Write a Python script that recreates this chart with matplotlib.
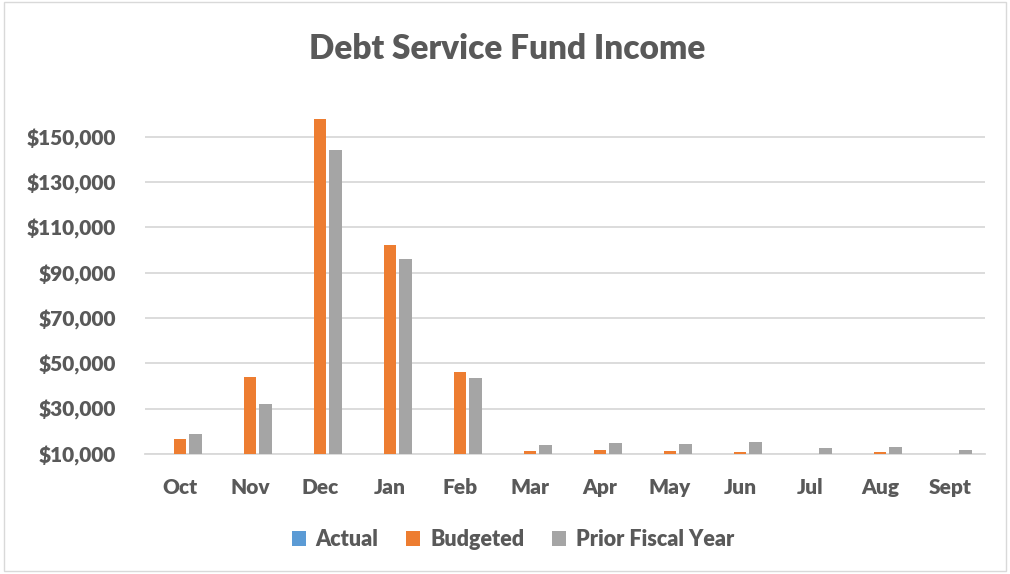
import numpy as np
import matplotlib.pyplot as plt
from matplotlib.patches import Rectangle

# Data
months = ['Oct', 'Nov', 'Dec', 'Jan', 'Feb', 'Mar', 'Apr', 'May', 'Jun', 'Jul', 'Aug', 'Sept']
actual = [0, 0, 0, 0, 0, 0, 0, 0, 0, 0, 0, 0]
budgeted = [16800, 44000, 157700, 102200, 46200, 11300, 11900, 11500, 11000, 10200, 10700, 10200]
prior = [18700, 32100, 144400, 96200, 43600, 14100, 14900, 14400, 15400, 12800, 13100, 12000]

txt = '#595959'
grid_c = '#d9d9d9'
plt.rcParams['font.family'] = ['Lato', 'DejaVu Sans']
fw = 'heavy'

fig = plt.figure(figsize=(10.1, 5.74), dpi=100)
ax = fig.add_axes([0.1436, 0.209, 0.8317, 0.592])

x = np.arange(len(months))
w = 0.18
off = 0.22
ax.bar(x - off, actual, w, color='#5B9BD5', label='Actual', zorder=3)
ax.bar(x, budgeted, w, color='#ED7D31', label='Budgeted', zorder=3)
ax.bar(x + off, prior, w, color='#A5A5A5', label='Prior Fiscal Year', zorder=3)

ax.set_xlim(-0.5, len(months) - 0.5)
ax.set_ylim(10000, 160000)
ticks = np.arange(10000, 160001, 20000)
ax.set_yticks(ticks)
ax.set_yticklabels(['${:,.0f}'.format(t) for t in ticks])
ax.set_xticks(x)
ax.set_xticklabels(months)
ax.grid(axis='y', color=grid_c, linewidth=1.3, zorder=0)
for s in ['top', 'right', 'left']:
    ax.spines[s].set_visible(False)
ax.spines['bottom'].set_color(grid_c)
ax.spines['bottom'].set_linewidth(1.3)
ax.tick_params(length=0, labelsize=15, labelcolor=txt)
ax.tick_params(axis='y', pad=21)
ax.tick_params(axis='x', pad=17)
for lab in ax.get_xticklabels() + ax.get_yticklabels():
    lab.set_fontweight(fw)

fig.text(0.502, 0.915, 'Debt Service Fund Income', ha='center', va='center',
         fontsize=24, fontweight=fw, color=txt)

leg = fig.legend(loc='center', bbox_to_anchor=(0.508, 0.06), ncol=3, frameon=False,
                 handlelength=0.65, handleheight=0.65, handletextpad=0.45, columnspacing=1.3,
                 prop={'size': 15.5, 'weight': fw})
for t in leg.get_texts():
    t.set_color(txt)

fig.patches.append(Rectangle((0.004, 0.006), 0.992, 0.99, transform=fig.transFigure,
                             fill=False, edgecolor='#d9d9d9', linewidth=1))

fig.savefig('out.png', dpi=100)
